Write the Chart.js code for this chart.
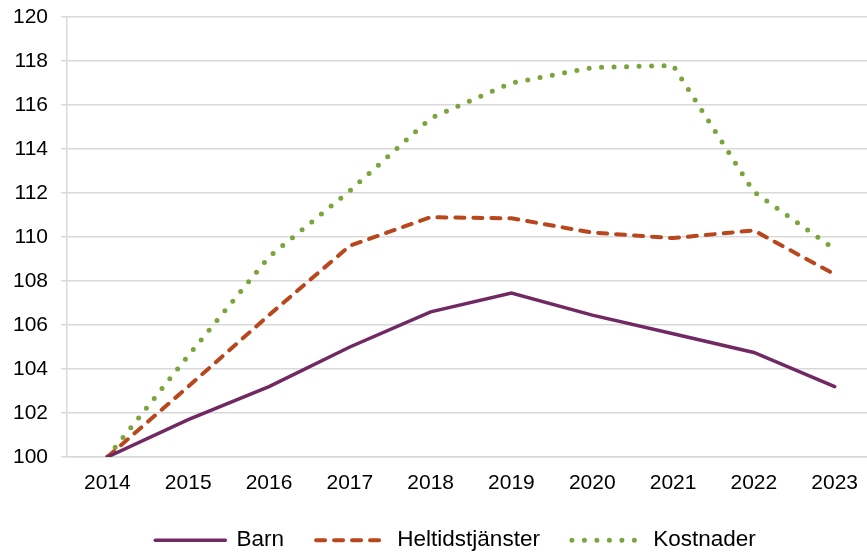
<!DOCTYPE html>
<html>
<head>
<meta charset="utf-8">
<script src="https://cdn.jsdelivr.net/npm/chart.js@4/dist/chart.umd.min.js"></script>
<style>
  html, body { margin: 0; padding: 0; background: #fff; }
  #wrap { width: 867px; height: 555px; }
</style>
</head>
<body>
<div id="wrap"><canvas id="indexChart"></canvas></div>
<script>
// index 2014 = 100
const years = [2014, 2015, 2016, 2017, 2018, 2019, 2020, 2021, 2022, 2023];
const barn = [100, 101.7, 103.2, 105.0, 106.6, 107.45, 106.45, 105.6, 104.75, 103.2];
const heltid = [100, 103.2, 106.45, 109.6, 110.9, 110.85, 110.2, 109.95, 110.3, 108.3];
const kostnader = [100, 104.6, 109.1, 112.1, 115.4, 117.0, 117.7, 117.8, 112.05, 109.45];
const yTicks = [100, 102, 104, 106, 108, 110, 112, 114, 116, 118, 120];

const FONT = '"Liberation Sans", Arial, sans-serif';
const toPoints = (vals) => vals.map((v, i) => ({ x: years[i], y: v }));

// legend sits a bit right of centre in the original
const legendShift = {
    id: 'legendShift',
    afterLayout(chart) {
        if (chart.legend) {
            chart.legend.left += 22;
            chart.legend.right += 22;
        }
    }
};

document.addEventListener('DOMContentLoaded', () => {
    const ctx = document.getElementById('indexChart');

    new Chart(ctx, {
        type: 'line',
        data: {
            datasets: [
                {
                    label: 'Barn',
                    data: toPoints(barn),
                    borderColor: '#702963',
                    borderWidth: 3.5,
                    borderCapStyle: 'round'
                },
                {
                    label: 'Heltidstjänster',
                    data: toPoints(heltid),
                    borderColor: '#b9471d',
                    borderWidth: 4,
                    borderDash: [9, 9],
                    borderCapStyle: 'round'
                },
                {
                    label: 'Kostnader',
                    data: toPoints(kostnader),
                    borderColor: '#7ca43c',
                    borderWidth: 5,
                    borderDash: [0, 12.5],
                    borderCapStyle: 'round'
                }
            ]
        },
        plugins: [legendShift],
        options: {
            responsive: true,
            maintainAspectRatio: false,
            animation: false,
            layout: { padding: 0 },
            elements: {
                point: { radius: 0, hoverRadius: 0 },
                line: { tension: 0, fill: false }
            },
            plugins: {
                tooltip: { enabled: false },
                legend: {
                    position: 'bottom',
                    maxHeight: 58,
                    labels: {
                        color: '#000',
                        font: { family: FONT, size: 22.5 },
                        usePointStyle: true,
                        pointStyleWidth: 70,
                        padding: 32,
                        generateLabels: (chart) => chart.data.datasets.map((ds, i) => ({
                            text: ds.label,
                            datasetIndex: i,
                            pointStyle: 'line',
                            strokeStyle: ds.borderColor,
                            fillStyle: ds.borderColor,
                            lineWidth: ds.borderWidth,
                            lineDash: ds.borderDash || [],
                            lineCap: ds.borderCapStyle,
                            fontColor: '#000',
                            hidden: false
                        }))
                    }
                }
            },
            scales: {
                x: {
                    type: 'linear',
                    min: 2013.5,
                    max: 2023.4,
                    afterBuildTicks: (scale) => {
                        scale.ticks = years.map(v => ({ value: v }));
                    },
                    afterFit: (scale) => { scale.height = 40; },
                    grid: { display: false },
                    border: { display: true, color: '#d9d9d9', width: 1.5 },
                    ticks: {
                        color: '#000',
                        font: { family: FONT, size: 21 },
                        padding: 6,
                        maxRotation: 0,
                        callback: (v) => String(v)
                    }
                },
                y: {
                    min: 100,
                    max: 120,
                    afterBuildTicks: (scale) => {
                        scale.ticks = yTicks.map(v => ({ value: v }));
                    },
                    afterFit: (scale) => {
                        scale.width = 67;
                        scale.paddingTop = 17;
                        scale.paddingBottom = 0;
                    },
                    grid: { color: '#d9d9d9', lineWidth: 1.5, tickLength: 6 },
                    border: { display: true, color: '#d9d9d9', width: 1.5 },
                    ticks: {
                        color: '#000',
                        font: { family: FONT, size: 21 },
                        padding: 13,
                        callback: (v) => String(v)
                    }
                }
            }
        }
    });
});
</script>
</body>
</html>
